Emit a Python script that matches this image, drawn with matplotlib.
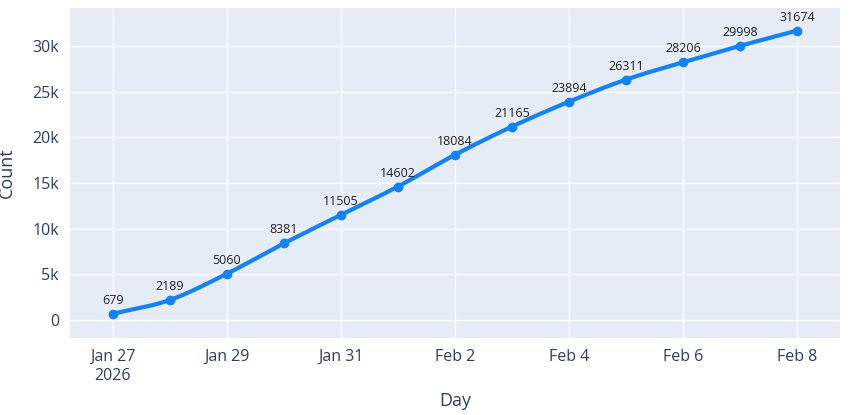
import numpy as np
import matplotlib
matplotlib.use("Agg")
import matplotlib.pyplot as plt
import matplotlib.dates as mdates
import datetime as dt

days = [dt.date(2026,1,27)+dt.timedelta(days=i) for i in range(13)]
counts = [679,2189,5060,8381,11505,14602,18084,21165,23894,26311,28206,29998,31674]
tick_labels = ["Jan 27\n2026","Jan 29","Jan 31","Feb 2","Feb 4","Feb 6","Feb 8"]

plt.rcParams['font.family'] = ['Open Sans','DejaVu Sans']
fc = '#2a3f5f'
fig = plt.figure(figsize=(8.5,4.15), dpi=100)
ax = fig.add_axes([70/850, 77/415, 770/850, 330/415])
ax.set_facecolor('#E5ECF6')

x = mdates.date2num(days)
y = np.array(counts, float)
# Catmull-Rom smoothing for the line shape
px = np.concatenate([[2*x[0]-x[1]], x, [2*x[-1]-x[-2]]])
py = np.concatenate([[2*y[0]-y[1]], y, [2*y[-1]-y[-2]]])
sx, sy = [], []
t = np.linspace(0,1,20)
for i in range(1,len(px)-2):
    p0,p1,p2,p3 = py[i-1],py[i],py[i+1],py[i+2]
    q0,q1,q2,q3 = px[i-1],px[i],px[i+1],px[i+2]
    f = lambda a,b,c,d: 0.5*((2*b)+(-a+c)*t+(2*a-5*b+4*c-d)*t**2+(-a+3*b-3*c+d)*t**3)
    sx.extend(f(q0,q1,q2,q3)); sy.extend(f(p0,p1,p2,p3))
col = '#1482f0'
ax.plot(sx, sy, color=col, lw=3, zorder=3)
ax.plot(x, y, 'o', color=col, ms=6, zorder=4)
for xi, yi in zip(x, counts):
    ax.annotate(str(yi), (xi, yi), xytext=(0,5), textcoords='offset points',
                ha='center', va='bottom', fontsize=9, color='#222222')

ax.set_xlim(x[0]-0.75, x[-1]+0.75)
ax.set_ylim(-1970, 34140)
ax.set_xticks(x[::2])
ax.set_xticklabels(tick_labels)
ax.set_yticks([0,5000,10000,15000,20000,25000,30000])
ax.set_yticklabels(['0','5k','10k','15k','20k','25k','30k'])
ax.grid(color='white', lw=1)
ax.set_axisbelow(True)
for s in ax.spines.values(): s.set_visible(False)
ax.tick_params(length=0, colors=fc, labelsize=11.5, pad=8)
ax.set_xlabel('Day', color=fc, fontsize=13, labelpad=6)
ax.set_ylabel('Count', color=fc, fontsize=13, labelpad=12)
fig.savefig('out.png', dpi=100)
